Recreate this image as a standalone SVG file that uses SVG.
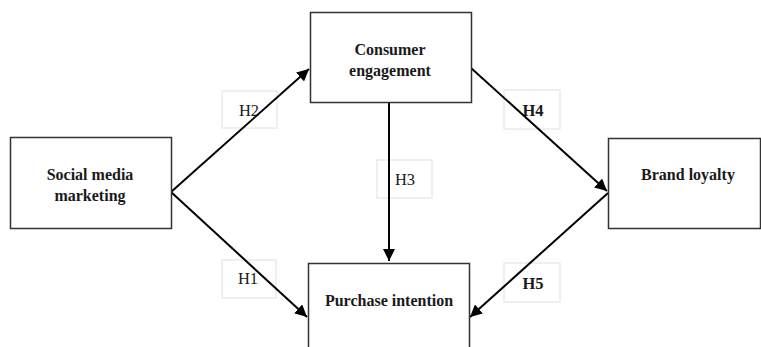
<svg xmlns="http://www.w3.org/2000/svg" width="761" height="347" viewBox="0 0 761 347">
<defs>
<style>
.node{fill:#fff;stroke:#333;stroke-width:1.5}
.lbl{fill:#fff;stroke:#e0e0e0;stroke-width:1}
.t{font-family:"Liberation Serif","Times New Roman",serif;font-weight:bold;font-size:16px;fill:#1a1a1a;text-anchor:middle}
.h{font-family:"Liberation Serif","Times New Roman",serif;font-size:16.5px;fill:#1a1a1a;text-anchor:middle}
.c{stroke:#000;stroke-width:2;fill:none;marker-end:url(#ah)}
</style>
<marker id="ah" viewBox="0 0 10 10" refX="10" refY="5" markerWidth="6" markerHeight="6" markerUnits="strokeWidth" orient="auto">
<path d="M0,0 L10,5 L0,10 Z" fill="#000"/>
</marker>
</defs>
<g id="labels">
<g id="lH2"><rect class="lbl" x="222" y="91" width="55" height="37"/><text class="h" x="249" y="116">H2</text></g>
<g id="lH1"><rect class="lbl" x="222" y="260" width="54" height="38"/><text class="h" x="248" y="284">H1</text></g>
<g id="lH3"><rect class="lbl" x="377" y="160" width="55" height="38"/><text class="h" x="405" y="185">H3</text></g>
<g id="lH4"><rect class="lbl" x="504" y="90" width="56" height="39"/><text class="h" x="533" y="116" font-weight="bold">H4</text></g>
<g id="lH5"><rect class="lbl" x="504" y="263" width="56" height="39"/><text class="h" x="533" y="289" font-weight="bold">H5</text></g>
</g>
<g id="connectors">
<path class="c" d="M171,192 L309,69"/>
<path class="c" d="M171,192 L307,317"/>
<path class="c" d="M389,102 L389,261"/>
<path class="c" d="M471,68 L607,191"/>
<path class="c" d="M608,193 L470,317"/>
</g>
<g id="smm"><rect class="node" x="10.5" y="137.5" width="161" height="91"/><text class="t" x="90" y="180">Social media</text><text class="t" x="90" y="201">marketing</text></g>
<g id="ce"><rect class="node" x="310.5" y="12.5" width="161" height="90"/><text class="t" x="390" y="55">Consumer</text><text class="t" x="390" y="76">engagement</text></g>
<g id="bl"><rect class="node" x="608.5" y="138.5" width="152" height="90"/><text class="t" x="688" y="180">Brand loyalty</text></g>
<g id="pi"><rect class="node" x="308.5" y="263.5" width="161" height="90"/><text class="t" x="389" y="306">Purchase intention</text></g>
</svg>
